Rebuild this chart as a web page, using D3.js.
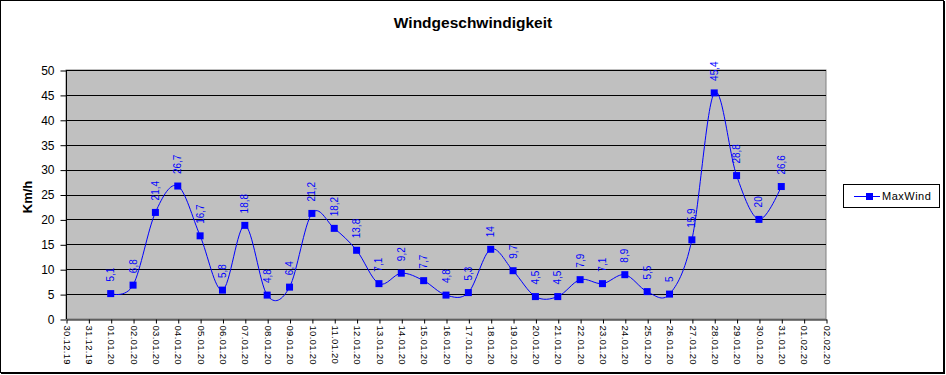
<!DOCTYPE html>
<html><head><meta charset="utf-8">
<script src="https://cdn.jsdelivr.net/npm/d3@7"></script>
<style>body{margin:0;background:#fff}svg{display:block}text{font-family:"Liberation Sans",Arial,sans-serif}</style>
</head><body><svg id="c" width="946" height="375"></svg>
<script>
const title = "Windgeschwindigkeit";
const yLabel = "Km/h";
const seriesName = "MaxWind";
const xTicks = ["30.12.19","31.12.19","01.01.20","02.01.20","03.01.20","04.01.20","05.01.20","06.01.20","07.01.20","08.01.20","09.01.20","10.01.20","11.01.20","12.01.20","13.01.20","14.01.20","15.01.20","16.01.20","17.01.20","18.01.20","19.01.20","20.01.20","21.01.20","22.01.20","23.01.20","24.01.20","25.01.20","26.01.20","27.01.20","28.01.20","29.01.20","30.01.20","31.01.20","01.02.20","02.02.20"];
const dates = ["01.01.20","02.01.20","03.01.20","04.01.20","05.01.20","06.01.20","07.01.20","08.01.20","09.01.20","10.01.20","11.01.20","12.01.20","13.01.20","14.01.20","15.01.20","16.01.20","17.01.20","18.01.20","19.01.20","20.01.20","21.01.20","22.01.20","23.01.20","24.01.20","25.01.20","26.01.20","27.01.20","28.01.20","29.01.20","30.01.20","31.01.20"];
const values = [5.1,6.8,21.4,26.7,16.7,5.8,18.8,4.8,6.4,21.2,18.2,13.8,7.1,9.2,7.7,4.8,5.3,14,9.7,4.5,4.5,7.9,7.1,8.9,5.5,5,15.9,45.4,28.8,20,26.6];
const yTicks = [0,5,10,15,20,25,30,35,40,45,50];

const svg = d3.select("#c");
const L=66, R=826, T=70, B=319;
const x = d3.scalePoint().domain(xTicks).range([L,R]);
const y = d3.scaleLinear().domain([0,50]).range([B,T]);
const blue = "#0000ff";

// outer border
svg.append("rect").attr("x",0.5).attr("y",0.5).attr("width",943).attr("height",372).attr("fill","#fff").attr("stroke","#000");
svg.append("line").attr("x1",944.5).attr("x2",944.5).attr("y1",1).attr("y2",374).attr("stroke","#000");
svg.append("line").attr("x1",1).attr("x2",945).attr("y1",373.5).attr("y2",373.5).attr("stroke","#000");

// plot area
svg.append("rect").attr("x",L).attr("y",T).attr("width",R-L).attr("height",B-T).attr("fill","#c0c0c0").attr("stroke","#808080");

// gridlines
svg.append("g").selectAll("line").data(yTicks.filter(d=>d>0)).join("line")
  .attr("x1",L).attr("x2",R).attr("y1",d=>Math.round(y(d))+0.5).attr("y2",d=>Math.round(y(d))+0.5)
  .attr("stroke","#000");

// y axis
const ya = svg.append("g").attr("transform",`translate(${L+0.5},0.5)`)
  .call(d3.axisLeft(y).tickValues(yTicks).tickSize(6).tickPadding(6).tickFormat(d=>d));
ya.select(".domain").remove();
ya.selectAll("line").attr("stroke","#000");
ya.selectAll("text").attr("font-size",12).attr("fill","#000").attr("font-family","Liberation Sans, Arial, sans-serif");
svg.append("line").attr("x1",L+0.5).attr("x2",L+0.5).attr("y1",T).attr("y2",B).attr("stroke","#000");

// x axis
const xa = svg.append("g").attr("transform",`translate(0.5,${B+0.5})`)
  .call(d3.axisBottom(x).tickSize(4).tickSizeOuter(0));
xa.select(".domain").attr("stroke","#000");
xa.selectAll("line").attr("stroke","#000");
xa.selectAll("text").attr("font-size",9.5).attr("fill","#000").attr("font-family","Liberation Sans, Arial, sans-serif")
  .attr("transform","rotate(90)").attr("text-anchor","start").attr("x",6).attr("y",0).attr("dy","0.35em").attr("letter-spacing","0.3px");

// line
const pts = dates.map((d,i)=>[x(d),y(values[i])]);
svg.append("path").attr("d",d3.line().curve(d3.curveCardinal.tension(0))(pts))
  .attr("fill","none").attr("stroke",blue).attr("stroke-width",1);

// markers
svg.append("g").selectAll("rect").data(pts).join("rect")
  .attr("x",d=>d[0]-3.5).attr("y",d=>d[1]-3.5).attr("width",7).attr("height",7).attr("fill",blue);

// data labels
svg.append("g").selectAll("text").data(dates).join("text")
  .attr("transform",(d,i)=>`translate(${x(d)},${y(values[i])-12}) rotate(-90)`)
  .attr("dy","0.35em").attr("text-anchor","start").attr("font-size",10).attr("fill",blue)
  .text((d,i)=>String(values[i]).replace(".",","));

// title
svg.append("text").attr("x",473).attr("y",28).attr("text-anchor","middle").attr("font-size",15.5).attr("font-weight","bold").text(title);

// y label
svg.append("text").attr("transform","translate(32,197) rotate(-90)").attr("text-anchor","middle").attr("font-size",13).attr("font-weight","bold").text(yLabel);

// legend
svg.append("rect").attr("x",843.5).attr("y",184.5).attr("width",96).attr("height",23).attr("fill","#fff").attr("stroke","#000");
svg.append("line").attr("x1",854).attr("x2",880).attr("y1",196.5).attr("y2",196.5).attr("stroke",blue);
svg.append("rect").attr("x",866).attr("y",193).attr("width",7).attr("height",7).attr("fill",blue);
svg.append("text").attr("x",882).attr("y",196).attr("dy","0.35em").attr("font-size",11).attr("letter-spacing","0.5px").text(seriesName);
</script></body></html>
